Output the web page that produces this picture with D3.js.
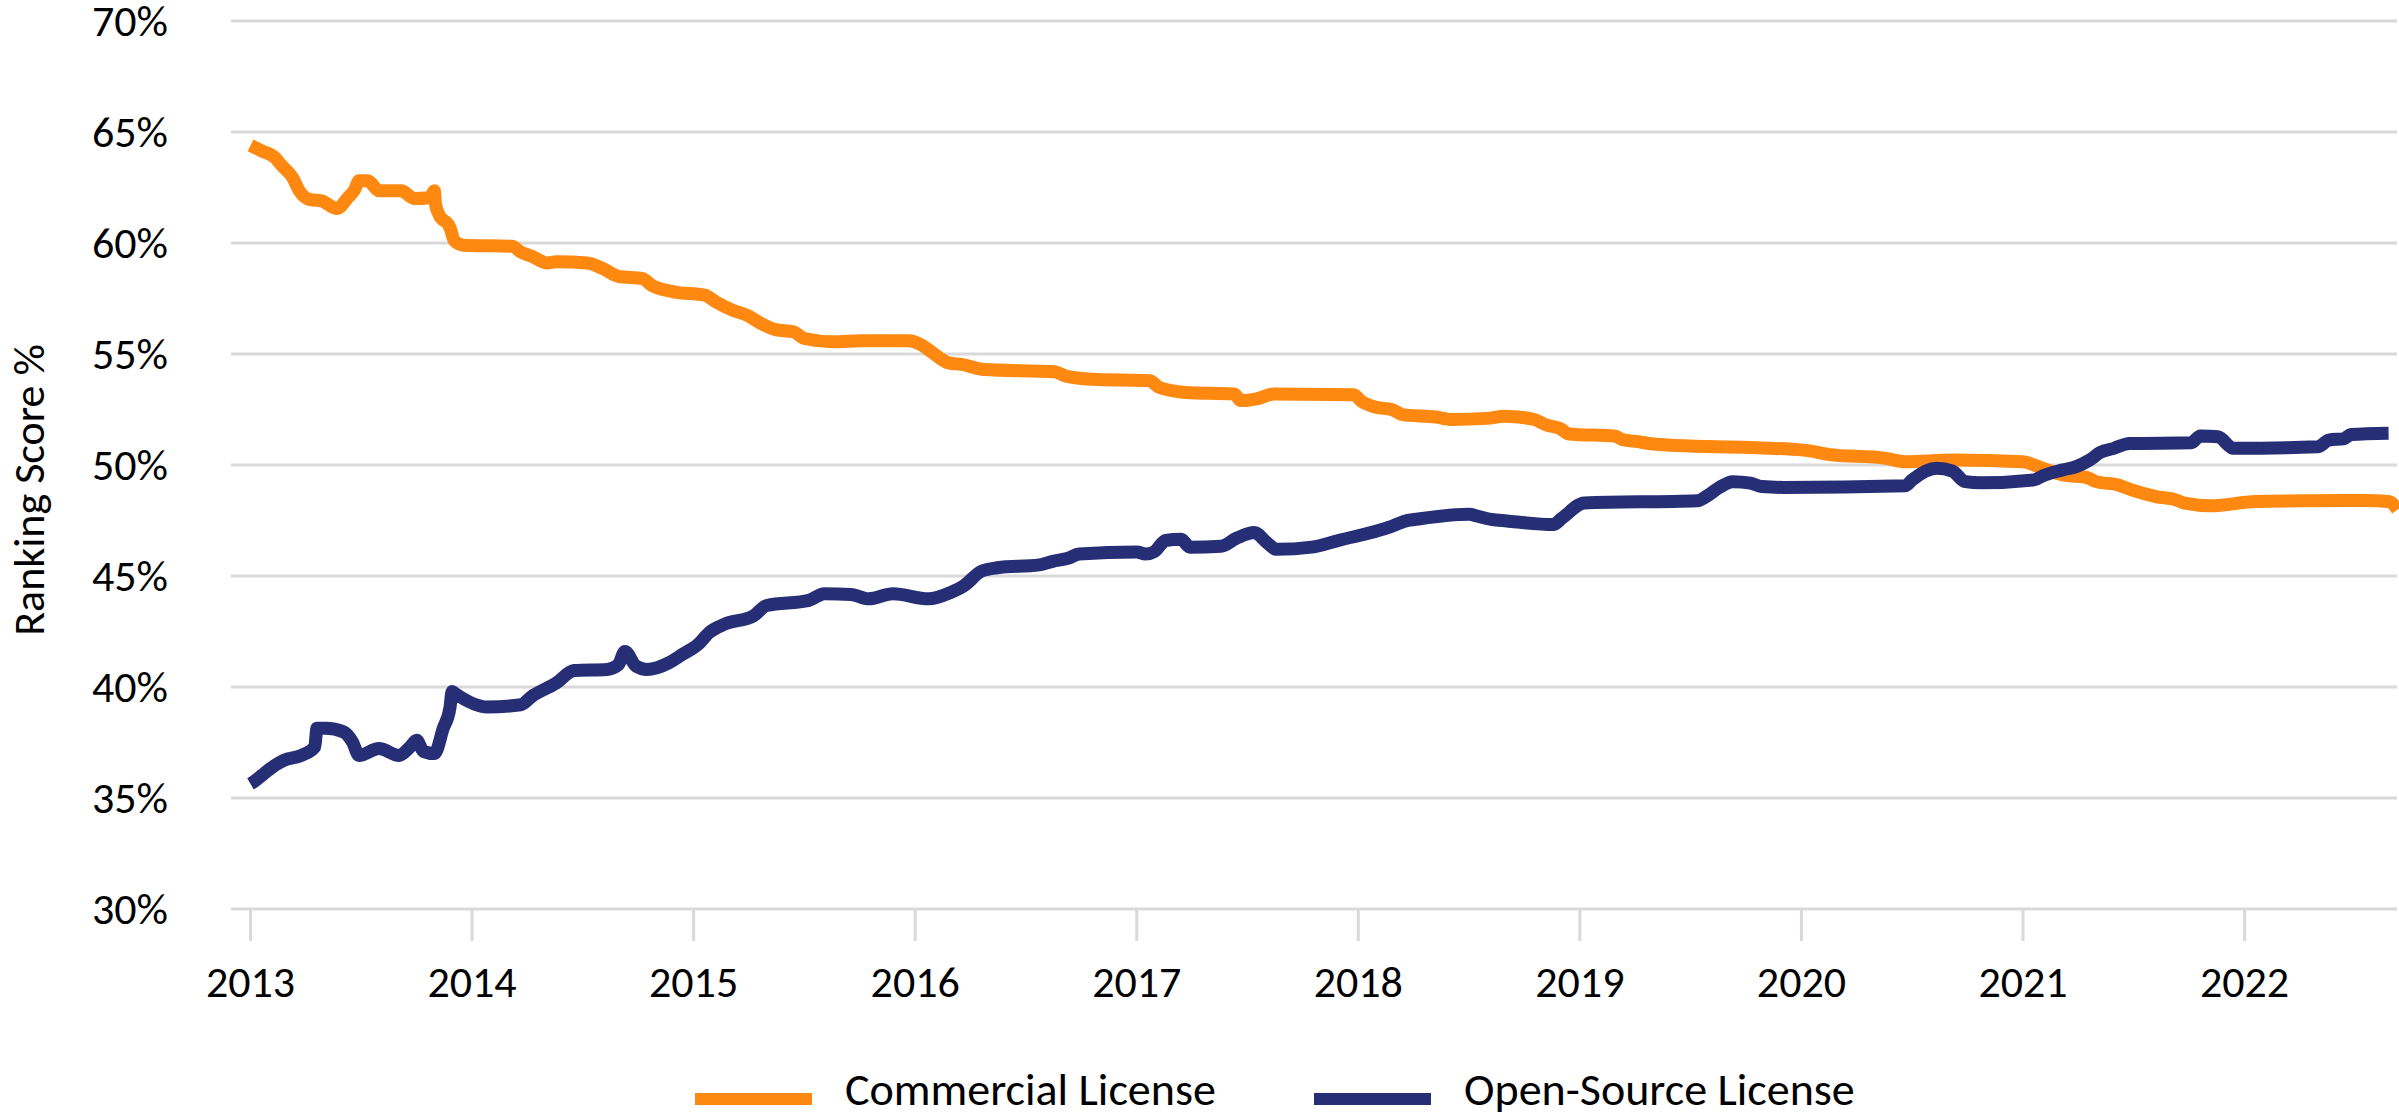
<!DOCTYPE html>
<html>
<head>
<meta charset="utf-8">
<script src="https://cdn.jsdelivr.net/npm/d3@7"></script>
<style>
  body { margin: 0; background: #fff; }
  svg { display: block; font-family: Carlito, Calibri, Lato, "Open Sans", sans-serif; }
</style>
</head>
<body>
<svg width="2399" height="1116"></svg>
<script>
// data, dates as decimal years, values in %
var yearTicks = [2013, 2014, 2015, 2016, 2017, 2018, 2019, 2020, 2021, 2022];
var pctTicks = [30, 35, 40, 45, 50, 55, 60, 65, 70];
var seriesNames = ["Commercial License", "Open-Source License"];
var seriesColors = ["#ff8811", "#262e76"];

var commercialDates = [2013.00, 2013.05, 2013.11, 2013.14, 2013.19, 2013.22, 2013.27, 2013.32, 2013.39, 2013.44,
	2013.47, 2013.49, 2013.53, 2013.58, 2013.68, 2013.74, 2013.81, 2013.83, 2013.835, 2013.85,
	2013.90, 2013.92, 2013.96, 2014.18, 2014.22, 2014.27, 2014.34, 2014.38, 2014.52, 2014.59,
	2014.66, 2014.77, 2014.81, 2014.91, 2015.05, 2015.10, 2015.17, 2015.25, 2015.30, 2015.37,
	2015.45, 2015.50, 2015.63, 2015.76, 2015.97, 2016.03, 2016.07, 2016.15, 2016.21, 2016.31,
	2016.63, 2016.68, 2016.80, 2017.06, 2017.10, 2017.22, 2017.44, 2017.47, 2017.54, 2017.62,
	2017.98, 2018.01, 2018.08, 2018.15, 2018.20, 2018.35, 2018.42, 2018.58, 2018.66, 2018.79,
	2018.85, 2018.91, 2018.95, 2019.16, 2019.19, 2019.26, 2019.33, 2020.01, 2020.12, 2020.38,
	2020.47, 2020.68, 2021.00, 2021.08, 2021.18, 2021.29, 2021.33, 2021.43, 2021.49, 2021.60,
	2021.69, 2021.73, 2021.85, 2022.05, 2022.31, 2022.54, 2022.65, 2022.69];
var commercialValues = [64.4, 64.15, 63.85, 63.5, 62.95, 62.35, 61.95, 61.9, 61.55, 62.05,
	62.4, 62.8, 62.8, 62.35, 62.35, 62.0, 62.05, 62.35, 61.75, 61.3,
	60.7, 60.1, 59.9, 59.85, 59.6, 59.4, 59.1, 59.15, 59.1, 58.85,
	58.5, 58.4, 58.1, 57.8, 57.65, 57.35, 57.0, 56.7, 56.4, 56.1,
	56.0, 55.7, 55.55, 55.6, 55.6, 55.4, 55.12, 54.6, 54.53, 54.3,
	54.2, 54.0, 53.86, 53.79, 53.5, 53.27, 53.2, 52.9, 52.98, 53.2,
	53.17, 52.9, 52.6, 52.5, 52.27, 52.16, 52.05, 52.1, 52.2, 52.06,
	51.8, 51.65, 51.4, 51.3, 51.15, 51.05, 50.95, 50.67, 50.48, 50.3,
	50.15, 50.22, 50.15, 49.88, 49.55, 49.43, 49.25, 49.1, 48.88, 48.58,
	48.43, 48.28, 48.16, 48.36, 48.39, 48.4, 48.36, 47.99];

var openDates = [2013.00, 2013.01, 2013.06, 2013.11, 2013.15, 2013.23, 2013.29, 2013.30, 2013.34, 2013.42,
	2013.46, 2013.49, 2013.58, 2013.67, 2013.72, 2013.75, 2013.78, 2013.83, 2013.87, 2013.90,
	2013.91, 2013.92, 2014.07, 2014.22, 2014.27, 2014.38, 2014.46, 2014.61, 2014.66, 2014.69,
	2014.74, 2014.79, 2014.89, 2014.95, 2015.02, 2015.07, 2015.14, 2015.27, 2015.33, 2015.52,
	2015.59, 2015.71, 2015.79, 2015.90, 2016.06, 2016.16, 2016.22, 2016.30, 2016.37, 2016.56,
	2016.62, 2016.69, 2016.74, 2017.00, 2017.04, 2017.08, 2017.13, 2017.20, 2017.24, 2017.38,
	2017.45, 2017.53, 2017.59, 2017.63, 2017.79, 2017.91, 2018.14, 2018.21, 2018.28, 2018.50,
	2018.54, 2018.60, 2018.67, 2018.88, 2018.92, 2019.02, 2019.53, 2019.57, 2019.63, 2019.69,
	2019.77, 2019.82, 2019.92, 2020.47, 2020.50, 2020.61, 2020.68, 2020.74, 2020.81, 2021.05,
	2021.09, 2021.18, 2021.24, 2021.30, 2021.35, 2021.41, 2021.48, 2021.76, 2021.80, 2021.88,
	2021.95, 2022.33, 2022.38, 2022.45, 2022.48, 2022.65];
var openValues = [35.64, 35.7, 36.09, 36.47, 36.7, 36.92, 37.3, 38.14, 38.14, 37.98,
	37.53, 36.92, 37.23, 36.92, 37.3, 37.6, 37.1, 37.0, 38.14, 39.05,
	39.8, 39.73, 39.1, 39.2, 39.58, 40.18, 40.74, 40.79, 41.0, 41.6,
	40.94, 40.79, 41.1, 41.47, 41.92, 42.45, 42.83, 43.2, 43.67, 43.9,
	44.2, 44.17, 43.97, 44.2, 43.97, 44.26, 44.56, 45.22, 45.37, 45.5,
	45.66, 45.8, 45.99, 46.08, 45.99, 46.1, 46.6, 46.65, 46.3, 46.34,
	46.7, 46.96, 46.48, 46.2, 46.3, 46.6, 47.2, 47.47, 47.58, 47.78,
	47.69, 47.55, 47.48, 47.32, 47.61, 48.29, 48.39, 48.58, 48.99, 49.25,
	49.18, 49.03, 48.99, 49.07, 49.33, 49.85, 49.73, 49.25, 49.2, 49.33,
	49.52, 49.78, 49.93, 50.22, 50.57, 50.75, 50.97, 51.0, 51.31, 51.27,
	50.75, 50.82, 51.12, 51.19, 51.37, 51.43];

var svg = d3.select("svg"),
	margin = {top: 21, right: 2, bottom: 207, left: 231},
	width = +svg.attr("width") - margin.left - margin.right,
	height = +svg.attr("height") - margin.top - margin.bottom;

var x = d3.scaleLinear().domain([2012.912, 2022.688]).range([0, width]),
	y = d3.scaleLinear().domain([30, 70]).range([height, 0]);

var g = svg.append("g")
	.attr("transform", "translate(" + margin.left + "," + margin.top + ")");

// gridlines
g.selectAll(".grid")
	.data(pctTicks)
	.enter().append("line")
	.attr("x1", 0)
	.attr("x2", width)
	.attr("y1", function(d) { return y(d); })
	.attr("y2", function(d) { return y(d); })
	.attr("stroke", "#d9d9d9")
	.attr("stroke-width", 3);

// y labels
g.selectAll(".ylab")
	.data(pctTicks)
	.enter().append("text")
	.attr("x", -63)
	.attr("y", function(d) { return y(d); })
	.attr("dy", "0.35em")
	.attr("text-anchor", "end")
	.attr("font-size", 44)
	.attr("fill", "#000")
	.text(function(d) { return d + "%"; });

// x ticks and labels
g.selectAll(".xtick")
	.data(yearTicks)
	.enter().append("line")
	.attr("x1", function(d) { return x(d); })
	.attr("x2", function(d) { return x(d); })
	.attr("y1", height)
	.attr("y2", height + 32)
	.attr("stroke", "#d9d9d9")
	.attr("stroke-width", 3);

g.selectAll(".xlab")
	.data(yearTicks)
	.enter().append("text")
	.attr("x", function(d) { return x(d); })
	.attr("y", height + 88)
	.attr("text-anchor", "middle")
	.attr("font-size", 44)
	.attr("fill", "#000")
	.text(function(d) { return d; });

// axis title
svg.append("text")
	.attr("transform", "translate(44,490) rotate(-90)")
	.attr("text-anchor", "middle")
	.attr("font-size", 44)
	.attr("fill", "#000")
	.text("Ranking Score %");

var line = d3.line()
	.x(function(d) { return x(d[0]); })
	.y(function(d) { return y(d[1]); })
	.curve(d3.curveMonotoneX);

var series = [
	d3.zip(commercialDates, commercialValues),
	d3.zip(openDates, openValues)
];

g.selectAll(".series")
	.data(series)
	.enter().append("path")
	.attr("d", line)
	.attr("fill", "none")
	.attr("stroke", function(d, i) { return seriesColors[i]; })
	.attr("stroke-width", 13)
	.attr("stroke-linejoin", "round");

// legend
var legendX = [695, 1314];
var lg = svg.selectAll(".legend")
	.data(seriesNames)
	.enter().append("g")
	.attr("transform", function(d, i) { return "translate(" + legendX[i] + ",1099)"; });

lg.append("line")
	.attr("x1", 0)
	.attr("x2", 117)
	.attr("stroke", function(d, i) { return seriesColors[i]; })
	.attr("stroke-width", 12);

lg.append("text")
	.attr("x", 150)
	.attr("y", 6)
	.attr("font-size", 46)
	.attr("fill", "#000")
	.text(function(d) { return d; });
</script>
</body>
</html>
